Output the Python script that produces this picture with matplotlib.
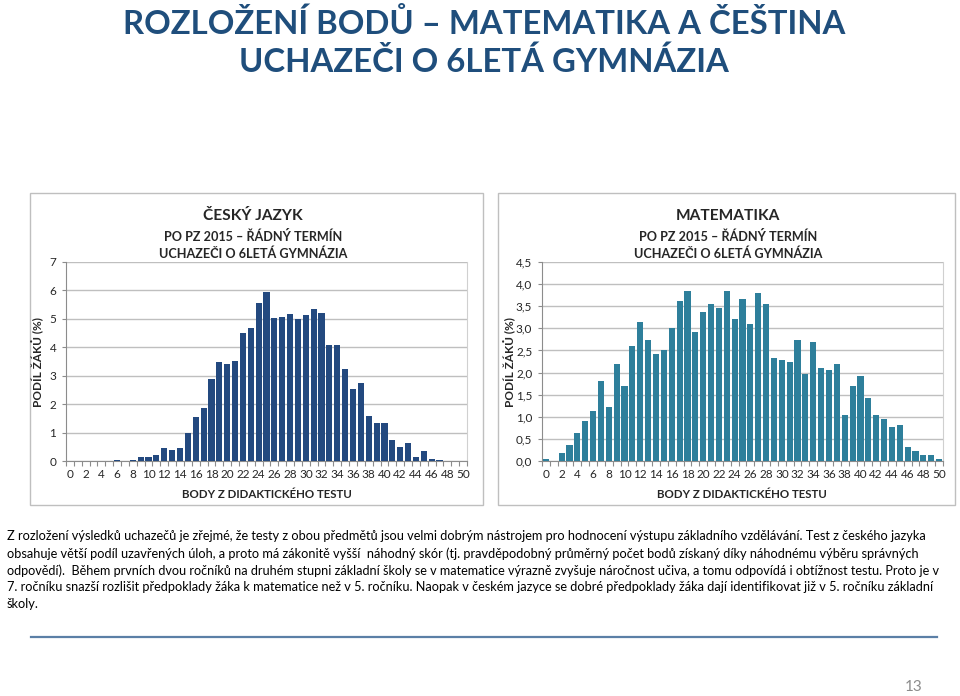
import matplotlib
matplotlib.use("Agg")
import matplotlib.pyplot as plt
from matplotlib.patches import Rectangle
from matplotlib.lines import Line2D
import numpy as np

plt.rcParams['font.family'] = ['Lato', 'DejaVu Sans']

# ---- data ----
points = list(range(0, 51))
cz_values = [0, 0, 0, 0, 0, 0, 0.03, 0, 0.03, 0.13, 0.13, 0.22, 0.45, 0.40, 0.45,
             1.00, 1.55, 1.87, 2.88, 3.47, 3.42, 3.52, 4.52, 4.67, 5.55, 5.95,
             5.03, 5.08, 5.17, 4.99, 5.13, 5.35, 5.22, 4.07, 4.07, 3.25, 2.55,
             2.74, 1.60, 1.32, 1.32, 0.74, 0.50, 0.63, 0.13, 0.35, 0.08, 0.03,
             0, 0, 0]
ma_values = [0.04, 0, 0.18, 0.36, 0.64, 0.91, 1.14, 1.82, 1.23, 2.19, 1.69, 2.60,
             3.15, 2.74, 2.42, 2.51, 3.01, 3.61, 3.84, 2.92, 3.38, 3.56, 3.47,
             3.84, 3.20, 3.66, 3.10, 3.79, 3.56, 2.33, 2.28, 2.24, 2.74, 1.96,
             2.69, 2.10, 2.05, 2.19, 1.05, 1.69, 1.92, 1.42, 1.05, 0.96, 0.78,
             0.82, 0.32, 0.23, 0.14, 0.14, 0.05]
x_tick_labels = [str(v) for v in range(0, 51, 2)]
cz_yticks = [0, 1, 2, 3, 4, 5, 6, 7]
ma_yticks = [0.0, 0.5, 1.0, 1.5, 2.0, 2.5, 3.0, 3.5, 4.0, 4.5]

main_title = ["ROZLOŽENÍ BODŮ – MATEMATIKA A ČEŠTINA", "UCHAZEČI O 6LETÁ GYMNÁZIA"]
cz_title = "ČESKÝ JAZYK"
ma_title = "MATEMATIKA"
sub_title = ["PO PZ 2015 – ŘÁDNÝ TERMÍN", "UCHAZEČI O 6LETÁ GYMNÁZIA"]
y_label = "PODÍL ŽÁKŮ (%)"
x_label = "BODY Z DIDAKTICKÉHO TESTU"
body_lines = [
    "Z rozložení výsledků uchazečů je zřejmé, že testy z obou předmětů jsou velmi dobrým nástrojem pro hodnocení výstupu základního vzdělávání. Test z českého jazyka",
    "obsahuje větší podíl uzavřených úloh, a proto má zákonitě vyšší  náhodný skór (tj. pravděpodobný průměrný počet bodů získaný díky náhodnému výběru správných",
    "odpovědí).  Během prvních dvou ročníků na druhém stupni základní školy se v matematice výrazně zvyšuje náročnost učiva, a tomu odpovídá i obtížnost testu. Proto je v",
    "7. ročníku snazší rozlišit předpoklady žáka k matematice než v 5. ročníku. Naopak v českém jazyce se dobré předpoklady žáka dají identifikovat již v 5. ročníku základní",
    "školy.",
]
page_no = "13"

W, H = 960, 696
fig = plt.figure(figsize=(W / 100, H / 100), dpi=100)
fig.patch.set_facecolor("white")
renderer = fig.canvas.get_renderer()

def fx(px):
    return px / W

def fy(py):
    return 1 - py / H

def fit(t, target_px, horizontal=True):
    """Scale a text's font size so that its extent matches target_px."""
    bb = t.get_window_extent(renderer=renderer)
    cur = bb.width if horizontal else bb.height
    t.set_fontsize(t.get_fontsize() * target_px / cur)
    return t.get_fontsize()

dark = "#262626"
title_color = "#1F4E7C"
t = fig.text(fx(484), fy(23), main_title[0], ha="center", va="center", fontsize=24,
             fontweight="bold", color=title_color)
tsize = fit(t, 723)
fig.text(fx(484), fy(62), main_title[1], ha="center", va="center", fontsize=tsize,
         fontweight="bold", color=title_color)

# chart boxes
for (l, r) in [(30, 483), (498, 955)]:
    fig.add_artist(Rectangle((fx(l), fy(505)), fx(r) - fx(l), fy(193) - fy(505),
                             transform=fig.transFigure, fill=False,
                             edgecolor="#BFBFBF", linewidth=1.0))

def make_chart(left_px, right_px, values, yticks, color, decimal):
    ax = fig.add_axes([fx(left_px), fy(461), fx(right_px) - fx(left_px), fy(262) - fy(461)])
    ax.bar(points, values, width=0.78, color=color, zorder=3)
    ax.set_xlim(-0.5, 50.5)
    ax.set_ylim(yticks[0], yticks[-1])
    ax.set_yticks(yticks)
    if decimal:
        ax.set_yticklabels([f"{v:.1f}".replace(".", ",") for v in yticks])
    else:
        ax.set_yticklabels([str(v) for v in yticks])
    ax.set_xticks(list(range(0, 51, 2)))
    ax.set_xticklabels(x_tick_labels)
    ax.set_xticks(np.arange(-0.5, 51, 1), minor=True)
    ax.tick_params(axis="x", which="major", length=0, labelsize=8.5,
                   colors=dark, pad=6)
    ax.tick_params(axis="x", which="minor", length=3.5, color="#8C8C8C", width=0.8)
    ax.tick_params(axis="y", length=3, color="#8C8C8C", labelsize=8.5,
                   labelcolor=dark, pad=4)
    ax.grid(axis="y", color="#BFBFBF", linewidth=1.0, zorder=0)
    ax.spines["top"].set_visible(False)
    ax.spines["left"].set_color("#8C8C8C")
    ax.spines["bottom"].set_color("#8C8C8C")
    ax.spines["right"].set_color("#D0D0D0")
    ax.set_facecolor("white")
    return ax

ax1 = make_chart(66, 467, cz_values, cz_yticks, "#23497F", False)
ax2 = make_chart(542, 943, ma_values, ma_yticks, "#2E7F9B", True)

chart_title_size = None
for cx, title, ylx, xlx in [(253, cz_title, 38, 267), (728, ma_title, 510, 742)]:
    t = fig.text(fx(cx), fy(216), title, ha="center", va="center", fontsize=12,
                 fontweight="bold", color=dark)
    if chart_title_size is None:
        chart_title_size = fit(t, 100)
    else:
        t.set_fontsize(chart_title_size)
    s1 = fig.text(fx(cx), fy(237), sub_title[0], ha="center", va="center", fontsize=9,
                  fontweight="bold", color=dark)
    ss = fit(s1, 177)
    fig.text(fx(cx), fy(254), sub_title[1], ha="center", va="center", fontsize=ss,
             fontweight="bold", color=dark)
    yl = fig.text(fx(ylx), fy(362), y_label, ha="center", va="center", rotation=90,
                  fontsize=8.5, fontweight="bold", color=dark)
    fit(yl, 90, horizontal=False)
    xl = fig.text(fx(xlx), fy(495), x_label, ha="center", va="center", fontsize=8,
                  fontweight="bold", color=dark)
    fit(xl, 170)

# body text
line_y = [536, 553.5, 570.5, 587, 603.5]
line_end = [927, 920, 941, 939]
fs_list = []
for i, line in enumerate(body_lines):
    t = fig.text(fx(7), fy(line_y[i]), line, ha="left", va="center", fontsize=10,
                 color="black")
    if i < len(line_end):
        fs_list.append(fit(t, line_end[i] - 7))
    else:
        t.set_fontsize(float(np.mean(fs_list)))

fig.add_artist(Line2D([fx(31), fx(937)], [fy(637), fy(637)], transform=fig.transFigure,
                      color="#5B7FA6", linewidth=1.6))
fig.text(fx(914), fy(687), page_no, ha="center", va="center", fontsize=11,
         color="#8C8C8C")

fig.savefig("out.png", dpi=100, facecolor="white")
